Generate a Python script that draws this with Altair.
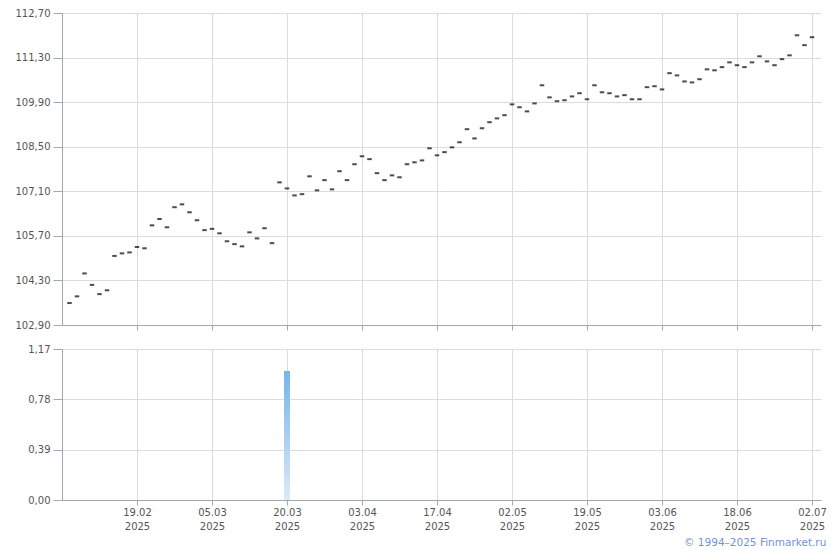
import json
import altair as alt
import pandas as pd

# closing quotes, one per trading day (index 0 .. 99)
prices = [
    103.59, 103.80, 104.52, 104.16, 103.87, 103.99, 105.07, 105.15, 105.18, 105.35,
    105.31, 106.03, 106.23, 105.97, 106.60, 106.69, 106.44, 106.19, 105.88, 105.92,
    105.78, 105.53, 105.44, 105.37, 105.81, 105.62, 105.94, 105.47, 107.38, 107.19,
    106.97, 107.01, 107.57, 107.13, 107.45, 107.16, 107.73, 107.45, 107.95, 108.20,
    108.11, 107.67, 107.45, 107.60, 107.54, 107.95, 108.01, 108.07, 108.45, 108.23,
    108.33, 108.48, 108.64, 109.05, 108.76, 109.08, 109.27, 109.39, 109.49, 109.83,
    109.74, 109.61, 109.86, 110.43, 110.05, 109.93, 109.96, 110.08, 110.18, 109.99,
    110.43, 110.21, 110.18, 110.08, 110.12, 109.99, 109.99, 110.37, 110.40, 110.30,
    110.81, 110.74, 110.55, 110.52, 110.62, 110.93, 110.90, 111.00, 111.15, 111.06,
    111.00, 111.15, 111.34, 111.18, 111.06, 111.25, 111.37, 112.00, 111.69, 111.94,
]

# x axis ticks (trading-day index) and their labels
tick_days = [9, 19, 29, 39, 49, 59, 69, 79, 89, 99]
tick_labels = ["19.02", "05.03", "20.03", "03.04", "17.04",
               "02.05", "19.05", "03.06", "18.06", "02.07"]
tick_year = "2025"

price_ticks = [102.90, 104.30, 105.70, 107.10, 108.50, 109.90, 111.30, 112.70]

# volume
vol_days = [29]
vol_vals = [1.00]
vol_ticks = [0.00, 0.39, 0.78, 1.17]

df = pd.DataFrame({"day": list(range(len(prices))), "price": prices})
dfv = pd.DataFrame({"day": vol_days, "vol": vol_vals})

x_domain = [-1.0, 100.2]
x_scale = alt.Scale(domain=x_domain, nice=False, zero=False, padding=0)
num_label = "replace(format(datum.value, '.2f'), '.', ',')"
x_label_expr = (
    f"[{json.dumps(tick_labels)}[round((datum.value - {tick_days[0]}) / 10)], '{tick_year}']"
)

PLOT_W = 759

top = alt.Chart(df).mark_tick(
    orient="horizontal", size=4.5, thickness=2, color="#000000"
).encode(
    x=alt.X("day:Q", scale=x_scale,
            axis=alt.Axis(values=tick_days, labels=False, title=None, tickSize=5)),
    y=alt.Y("price:Q",
            scale=alt.Scale(domain=[price_ticks[0], price_ticks[-1]], nice=False, zero=False),
            axis=alt.Axis(values=price_ticks, labelExpr=num_label, title=None,
                          tickSize=9, labelPadding=3, minExtent=50, maxExtent=50)),
).properties(width=PLOT_W, height=312)

bar_grad = alt.Gradient(
    gradient="linear",
    stops=[alt.GradientStop(color="#74b5ea", offset=0),
           alt.GradientStop(color="#dde9f7", offset=1)],
    x1=0, x2=0, y1=0, y2=1,
)

bottom = alt.Chart(dfv).mark_bar(size=6, color=bar_grad).encode(
    x=alt.X("day:Q", scale=x_scale,
            axis=alt.Axis(values=tick_days, labelExpr=x_label_expr, title=None,
                          tickSize=5, labelPadding=2, labelLineHeight=14)),
    y=alt.Y("vol:Q", scale=alt.Scale(domain=[vol_ticks[0], vol_ticks[-1]], nice=False, padding=0),
            axis=alt.Axis(values=vol_ticks, labelExpr=num_label, title=None,
                          tickSize=9, labelPadding=3, minExtent=50, maxExtent=50)),
).properties(width=PLOT_W, height=151)

chart = alt.vconcat(top, bottom, spacing=13).properties(
    padding={"left": 4, "top": 0, "right": 0, "bottom": 0},
    title=alt.TitleParams(
        "© 1994–2025 Finmarket.ru", orient="bottom", anchor="end",
        fontSize=10.5, fontWeight="normal", color="#7393d6", font="DejaVu Sans",
        offset=7,
    ),
).configure_axis(
    labelFont="DejaVu Sans", labelFontSize=10, labelColor="#555555",
    domainColor="#a3a8b0", tickColor="#a3a8b0", gridColor="#d8dce1",
).configure_view(stroke=None)

chart.save("out.html", embed_options={"renderer": "svg", "actions": False})
